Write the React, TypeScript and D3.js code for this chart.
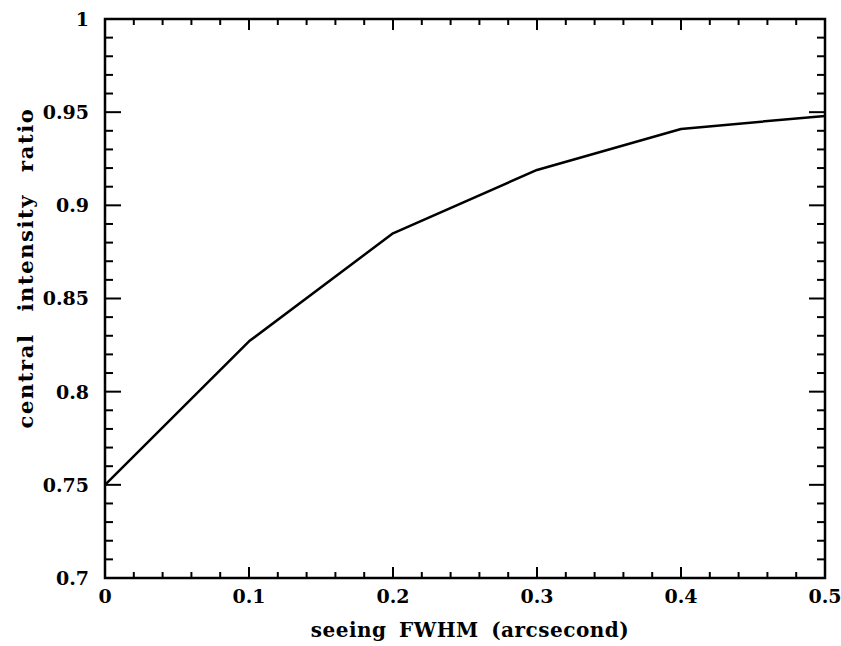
import React from "react";
import * as d3 from "d3";

// seeing FWHM (arcsec) vs central intensity ratio
const seeing = [0, 0.1, 0.2, 0.3, 0.4, 0.5];
const ratio = [0.75, 0.827, 0.885, 0.919, 0.941, 0.948];
const xTickLabels = ["0", "0.1", "0.2", "0.3", "0.4", "0.5"];
const yTickLabels = ["0.7", "0.75", "0.8", "0.85", "0.9", "0.95", "1"];

const FONT = "'DejaVu Serif', serif";

export default function App() {
  const width = 841;
  const height = 646;
  const margin = { top: 19, right: 16, bottom: 68, left: 105 };

  const x = d3.scaleLinear().domain([0, 0.5]).range([margin.left, width - margin.right]);
  const y = d3.scaleLinear().domain([0.7, 1]).range([height - margin.bottom, margin.top]);

  const line = d3.line<number>()
    .x((_, i) => x(seeing[i]))
    .y(d => y(d));

  // minor ticks every 0.02 in x, 0.01 in y
  const xMinor = d3.range(0, 51, 2).map(v => v / 100);
  const yMinor = d3.range(70, 101, 1).map(v => v / 100);
  const isMajorX = (v: number) => Math.abs(v * 10 - Math.round(v * 10)) < 1e-6;
  const isMajorY = (v: number) => Math.abs(v * 20 - Math.round(v * 20)) < 1e-6;

  const x0 = margin.left, x1 = width - margin.right;
  const y0 = height - margin.bottom, y1 = margin.top;

  return (
    <svg width={width} height={height} style={{ position: "absolute", left: 0, top: 0, background: "#fff" }}>
      {/* ticks, drawn inward on all four sides */}
      {xMinor.map(v => {
        const len = isMajorX(v) ? 11 : 6;
        return (
          <g key={"x" + v} stroke="#000" strokeWidth={2}>
            <line x1={x(v)} x2={x(v)} y1={y0} y2={y0 - len} />
            <line x1={x(v)} x2={x(v)} y1={y1} y2={y1 + len} />
          </g>
        );
      })}
      {yMinor.map(v => {
        const len = isMajorY(v) ? 16 : 8;
        return (
          <g key={"y" + v} stroke="#000" strokeWidth={2}>
            <line x1={x0} x2={x0 + len} y1={y(v)} y2={y(v)} />
            <line x1={x1} x2={x1 - len} y1={y(v)} y2={y(v)} />
          </g>
        );
      })}

      {/* frame */}
      <rect x={x0} y={y1} width={x1 - x0} height={y0 - y1} fill="none" stroke="#000" strokeWidth={2.5} />

      {/* data */}
      <path d={line(ratio) || ""} fill="none" stroke="#000" strokeWidth={2.5} strokeLinejoin="round" />

      {/* tick labels */}
      {seeing.map((v, i) => (
        <text key={"xl" + i} x={x(v)} y={603} textAnchor="middle"
          fontFamily={FONT} fontWeight="bold" fontSize={19}>{xTickLabels[i]}</text>
      ))}
      {yTickLabels.map(t => (
        <text key={"yl" + t} x={89} y={y(+t)} dy="0.36em" textAnchor="end"
          fontFamily={FONT} fontWeight="bold" fontSize={19}>{t}</text>
      ))}

      {/* axis titles */}
      <text x={470} y={637} textAnchor="middle" wordSpacing={5} letterSpacing={0.5}
        fontFamily={FONT} fontWeight="bold" fontSize={20}>seeing FWHM (arcsecond)</text>
      <text transform={`translate(33,268) rotate(-90)`} textAnchor="middle" wordSpacing={13} letterSpacing={1.6}
        fontFamily={FONT} fontWeight="bold" fontSize={21}>central intensity ratio</text>
    </svg>
  );
}
